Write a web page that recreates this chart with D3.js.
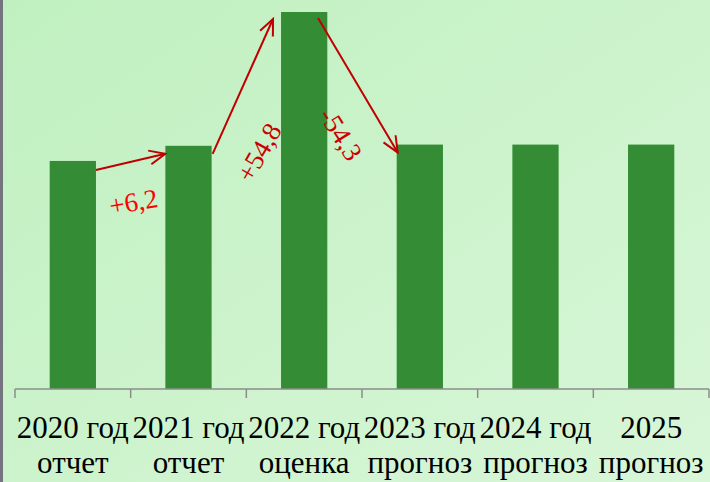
<!DOCTYPE html>
<html>
<head>
<meta charset="utf-8">
<script src="https://cdn.jsdelivr.net/npm/d3@7"></script>
<style>
  body { margin: 0; overflow: hidden; }
  svg { display: block; }
</style>
</head>
<body>
<svg id="chart" width="710" height="482"></svg>
<script>
// data
const years = ["2020 год", "2021 год", "2022 год", "2023 год", "2024 год", "2025"];
const kinds = ["отчет", "отчет", "оценка", "прогноз", "прогноз", "прогноз"];
const values = [93.4, 99.6, 154.4, 100.1, 100.1, 100.1];
const changes = ["+6,2", "+54,8", "-54,3"];

const width = 710, height = 482;
const base = 389;
const svg = d3.select('#chart');

// background gradient
const defs = svg.append("defs");
const grad = defs.append("linearGradient")
    .attr("id", "bg")
    .attr("x1", "0").attr("y1", "0")
    .attr("x2", "1").attr("y2", "1");
grad.append("stop").attr("offset", "0%").attr("stop-color", "#c0f0c0");
grad.append("stop").attr("offset", "100%").attr("stop-color", "#d8f6d8");

defs.append("marker")
    .attr("id", "head")
    .attr("viewBox", "0 0 20 20")
    .attr("refX", 18).attr("refY", 10)
    .attr("markerWidth", 20).attr("markerHeight", 20)
    .attr("markerUnits", "userSpaceOnUse")
    .attr("orient", "auto")
    .append("path")
    .attr("d", "M2,3 L18,10 L2,17")
    .attr("fill", "none")
    .attr("stroke", "#c00000")
    .attr("stroke-width", 2);

svg.append("rect")
    .attr("width", width).attr("height", height)
    .attr("fill", "url(#bg)");

// left border
svg.append("rect")
    .attr("x", 0).attr("y", 0)
    .attr("width", 3).attr("height", height)
    .attr("fill", "#74747f");

const x = d3.scaleBand()
    .domain(d3.range(values.length))
    .range([15, 709])
    .paddingInner(0.6)
    .paddingOuter(0.3);

const y = d3.scaleLinear()
    .domain([0, 154.4])
    .range([base, 12]);

svg.selectAll("rect.bar")
    .data(values)
    .enter().append("rect")
    .attr("class", "bar")
    .attr("x", (d, i) => x(i))
    .attr("y", d => y(d))
    .attr("width", x.bandwidth())
    .attr("height", d => base - y(d))
    .attr("fill", "#348d35");

// category axis line + tick marks at band edges
const step = x.step();
const edges = d3.range(values.length + 1).map(i => 15 + i * step);
svg.append("line")
    .attr("x1", 15).attr("x2", 709)
    .attr("y1", base).attr("y2", base)
    .attr("stroke", "#8c8c8c").attr("stroke-width", 1.5);
svg.selectAll("line.tick")
    .data(edges)
    .enter().append("line")
    .attr("class", "tick")
    .attr("x1", d => d).attr("x2", d => d)
    .attr("y1", base).attr("y2", base + 9)
    .attr("stroke", "#8c8c8c").attr("stroke-width", 1.5);

const labels = svg.selectAll("text.cat")
    .data(years)
    .enter().append("text")
    .attr("class", "cat")
    .attr("text-anchor", "middle")
    .style("font-family", "'Liberation Serif', 'Times New Roman', serif")
    .style("font-size", "31px")
    .attr("fill", "#000");
labels.append("tspan")
    .attr("x", (d, i) => x(i) + x.bandwidth() / 2)
    .attr("y", 438)
    .text(d => d);
labels.append("tspan")
    .attr("x", (d, i) => x(i) + x.bandwidth() / 2)
    .attr("y", 473)
    .text((d, i) => kinds[i]);

// change arrows between bars
const bw = x.bandwidth();
const arrows = [
    [x(0) + bw, y(values[0]) + 9, x(1), y(values[1]) + 8],
    [x(1) + bw + 1, y(values[1]) + 8, x(2) - 8, y(values[2]) + 7],
    [x(2) + 37, y(values[2]) + 6, x(3) + 1, y(values[3]) + 8]
];
svg.selectAll("line.arrow")
    .data(arrows)
    .enter().append("line")
    .attr("class", "arrow")
    .attr("x1", d => d[0]).attr("y1", d => d[1])
    .attr("x2", d => d[2]).attr("y2", d => d[3])
    .attr("stroke", "#c00000")
    .attr("stroke-width", 2)
    .attr("marker-end", "url(#head)");

const labelPos = [
    { cx: 135, cy: 211, rot: -10, color: "#ff0000" },
    { cx: 267, cy: 157, rot: -60, color: "#cc0000" },
    { cx: 333, cy: 139, rot: 58, color: "#cc0000" }
];
svg.selectAll("text.change")
    .data(changes)
    .enter().append("text")
    .attr("class", "change")
    .attr("text-anchor", "middle")
    .attr("transform", (d, i) => `translate(${labelPos[i].cx},${labelPos[i].cy}) rotate(${labelPos[i].rot})`)
    .style("font-family", "'Liberation Serif', 'Times New Roman', serif")
    .style("font-size", "27px")
    .attr("fill", (d, i) => labelPos[i].color)
    .text(d => d);
</script>
</body>
</html>
